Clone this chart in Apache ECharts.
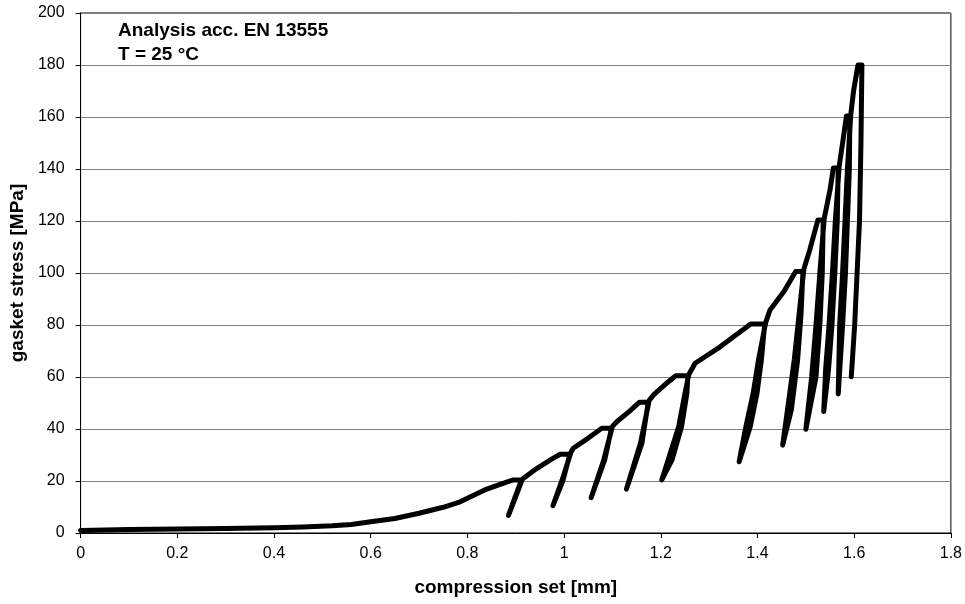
<!DOCTYPE html>
<html>
<head>
<meta charset="utf-8">
<script src="https://cdn.jsdelivr.net/npm/echarts@6/dist/echarts.min.js"></script>
<style>html,body{margin:0;padding:0;background:#fff}#c{width:965px;height:604px}</style>
</head>
<body>
<div id="c"></div>
<script>
// [compression set mm, gasket stress MPa]
const initialLoading = [[0,1.0],[0.1,1.3],[0.2,1.5],[0.3,1.7],[0.4,2.0],[0.46,2.3],[0.52,2.8],[0.56,3.3],[0.6,4.3],[0.65,5.6],[0.7,7.6],[0.75,9.9],[0.785,12.0],[0.84,16.9],[0.875,19.2],[0.895,20.4],[0.912,20.4]];
const cycle20 = [[0.899,14.0],[0.885,6.8],[0.900,14.0],[0.914,20.8]];
const load30 = [[0.944,24.9],[0.975,28.5],[0.992,30.3],[1.012,30.3]];
const cycle30 = [[0.998,20.4],[0.977,10.5],[0.996,20.4],[1.014,31.0]];
const load40 = [[1.019,32.6],[1.05,36.5],[1.078,40.3],[1.098,40.3]];
const cycle40 = [[1.084,28.1],[1.056,13.6],[1.082,28.1],[1.100,41.0]];
const load50 = [[1.109,42.8],[1.135,46.8],[1.156,50.3],[1.174,50.3]];
const cycle50 = [[1.161,34.5],[1.129,16.9],[1.158,34.5],[1.176,51.0]];
const load60 = [[1.185,53.1],[1.21,57.3],[1.231,60.5],[1.256,60.5]];
const cycle60 = [[1.254,53.7],[1.243,40.9],[1.223,28.0],[1.202,20.4],[1.215,28.0],[1.237,40.9],[1.250,53.7],[1.258,61.0]];
const load80 = [[1.271,65.3],[1.322,71.5],[1.386,80.4],[1.415,80.4]];
const cycle80 = [[1.408,66.5],[1.399,53.7],[1.385,40.9],[1.362,27.4],[1.376,40.9],[1.391,53.7],[1.402,66.5],[1.417,81.0]];
const load100 = [[1.426,85.8],[1.455,93.0],[1.479,100.6],[1.494,100.6]];
const cycle100 = [[1.490,84.0],[1.483,66.5],[1.470,47.3],[1.452,33.8],[1.462,47.3],[1.476,66.5],[1.486,84.0],[1.496,101.5]];
const load120 = [[1.508,108.8],[1.525,120.4],[1.536,120.4]];
const cycle120 = [[1.534,100],[1.529,80],[1.521,60],[1.500,39.9],[1.512,60],[1.521,80],[1.529,100],[1.538,121]];
const load140 = [[1.550,131.9],[1.557,140.4],[1.567,140.4]];
const cycle140 = [[1.565,120],[1.560,100],[1.554,80],[1.547,63],[1.537,46.7],[1.541,63],[1.548,80],[1.555,100],[1.561,120],[1.569,141]];
const load160 = [[1.577,151.2],[1.584,160.4],[1.591,160.4]];
const cycle160 = [[1.590,140],[1.586,120],[1.582,100],[1.576,80],[1.567,53.5],[1.570,80],[1.576,100],[1.581,120],[1.586,140],[1.593,161]];
const load180 = [[1.599,170.4],[1.608,180],[1.616,180]];
const unload180 = [[1.614,150],[1.611,120],[1.606,100],[1.601,80],[1.594,60.1]];

const xTicks = [0,0.2,0.4,0.6,0.8,1,1.2,1.4,1.6,1.8];
const yTicks = [0,20,40,60,80,100,120,140,160,180,200];
const annotation = ['Analysis acc. EN 13555','T = 25 °C'];

const curve = [].concat(initialLoading, cycle20, load30, cycle30, load40, cycle40, load50, cycle50,
  load60, cycle60, load80, cycle80, load100, cycle100, load120, cycle120, load140, cycle140,
  load160, cycle160, load180, unload180);

const font = 'Arial, "Liberation Sans", sans-serif';
const chart = echarts.init(document.getElementById('c'), null, {renderer:'canvas'});
chart.setOption({
  animation:false,
  backgroundColor:'#fff',
  grid:{left:80,right:14,top:13,bottom:71,show:true,borderColor:'#000',borderWidth:1,backgroundColor:'transparent'},
  xAxis:{
    type:'value',min:xTicks[0],max:xTicks[xTicks.length-1],interval:0.2,
    name:'compression set [mm]',nameLocation:'middle',nameGap:45,
    nameTextStyle:{fontFamily:font,fontSize:19,fontWeight:'bold',color:'#000'},
    axisLine:{show:true,lineStyle:{color:'#000',width:1}},
    axisTick:{show:true,length:5,lineStyle:{color:'#000'}},
    axisLabel:{fontFamily:font,fontSize:16,color:'#000',margin:13,formatter:v=>String(+v.toFixed(1))},
    splitLine:{show:false}
  },
  yAxis:{
    type:'value',min:yTicks[0],max:yTicks[yTicks.length-1],interval:20,
    name:'gasket stress [MPa]',nameLocation:'middle',nameGap:49,
    nameTextStyle:{fontFamily:font,fontSize:19,fontWeight:'bold',color:'#000'},
    axisLine:{show:true,lineStyle:{color:'#000',width:1}},
    axisTick:{show:true,length:5,lineStyle:{color:'#000'}},
    axisLabel:{fontFamily:font,fontSize:16,color:'#000',margin:16},
    splitLine:{show:true,lineStyle:{color:'#808080',width:1}}
  },
  graphic:[
    {type:'text',left:118,top:21,style:{text:annotation[0],font:'bold 19px '+font,fill:'#000'}},
    {type:'text',left:118,top:45,style:{text:annotation[1],font:'bold 19px '+font,fill:'#000'}}
  ],
  series:[{
    type:'line',data:curve,showSymbol:false,symbol:'none',
    lineStyle:{color:'#000',width:5,join:'round',cap:'round'},
    clip:true
  }]
});
</script>
</body>
</html>
